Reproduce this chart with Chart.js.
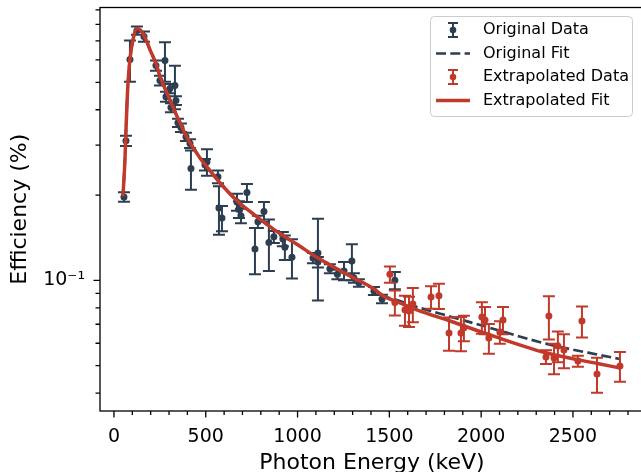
<!DOCTYPE html>
<html lang="en">
<head>
<meta charset="utf-8">
<title>Efficiency vs Photon Energy</title>
<script src="https://cdn.jsdelivr.net/npm/chart.js@4.4.1/dist/chart.umd.min.js"></script>
<style>
  html, body { margin: 0; padding: 0; background: #fff; }
  /* canvas is a bit larger than the window: the right spine and the
     bottom of the x title are cropped like in the original figure */
  #wrap { width: 641px; height: 472px; overflow: hidden; }
  #chart { display: block; }
</style>
</head>
<body>
<div id="wrap"><canvas id="chart" width="650" height="480"></canvas></div>
<script>
// --- data ---
const origX = [54.5, 65.4, 87.1, 125.3, 163.4, 228.8, 250.5, 277.8, 283.2, 305, 310.5, 332.2, 337.7, 348.6, 364.9, 392.2, 414, 419.4, 495.6, 506.5, 566.4, 571.9, 588.2, 670, 680.8, 691.7, 724.4, 768, 784, 817, 844, 871, 920, 931, 969.5, 1084, 1111, 1111, 1176, 1217, 1253, 1296, 1307, 1334, 1416, 1460, 1530];
const origY = [0.197, 0.311, 0.602, 0.761, 0.725, 0.573, 0.507, 0.597, 0.445, 0.475, 0.407, 0.487, 0.431, 0.360, 0.346, 0.321, 0.304, 0.248, 0.256, 0.262, 0.232, 0.180, 0.166, 0.189, 0.178, 0.169, 0.204, 0.129, 0.161, 0.175, 0.136, 0.1425, 0.140, 0.131, 0.1206, 0.120, 0.125, 0.116, 0.110, 0.105, 0.108, 0.117, 0.102, 0.098, 0.0918, 0.086, 0.100];
const origErr = [0.0075, 0.013, 0.10, 0.025, 0.03, 0.024, 0.02, 0.095, 0.018, 0.018, 0.015, 0.085, 0.015, 0.012, 0.012, 0.011, 0.011, 0.039, 0.012, 0.028, 0.012, 0.035, 0.017, 0.013, 0.012, 0.010, 0.015, 0.024, 0.008, 0.014, 0.028, 0.007, 0.008, 0.013, 0.019, 0.005, 0.04, 0.005, 0.004, 0.004, 0.008, 0.017, 0.004, 0.003, 0.003, 0.003, 0.007];

const extX = [1503, 1530, 1585, 1607, 1628, 1727, 1770, 1825, 1890, 1906, 2004, 2021, 2042, 2102, 2119, 2353, 2369, 2397, 2418, 2451, 2527, 2549, 2631, 2756];
const extY = [0.105, 0.0836, 0.0787, 0.078, 0.0826, 0.0874, 0.0882, 0.0652, 0.0652, 0.068, 0.0743, 0.0725, 0.0626, 0.0658, 0.0725, 0.0537, 0.0749, 0.0532, 0.0587, 0.0568, 0.0519, 0.0719, 0.0467, 0.0499];
const extErr = [0.007, 0.0085, 0.0095, 0.0095, 0.0114, 0.008, 0.009, 0.0087, 0.009, 0.007, 0.0095, 0.008, 0.0075, 0.006, 0.008, 0.003, 0.013, 0.0066, 0.0073, 0.0078, 0.0023, 0.009, 0.0066, 0.006];

// fitted curves, sampled along the drawn lines
const fitX = [49, 60, 65, 76, 87, 104, 125, 147, 174, 196, 229, 251, 278, 305, 332, 360, 387, 414, 468, 523, 577, 670, 741, 872, 1013, 1084, 1177, 1285, 1416, 1465, 1558, 1650, 1830, 2048, 2358, 2647, 2756];
const origFitY = [0.198, 0.267, 0.332, 0.491, 0.602, 0.708, 0.774, 0.761, 0.708, 0.652, 0.582, 0.524, 0.475, 0.434, 0.394, 0.360, 0.329, 0.306, 0.271, 0.244, 0.221, 0.191, 0.175, 0.151, 0.132, 0.123, 0.1134, 0.1037, 0.0933, 0.0885, 0.0846, 0.0806, 0.0746, 0.068, 0.0597, 0.0545, 0.0528];
const extFitY = [0.198, 0.267, 0.332, 0.491, 0.602, 0.708, 0.774, 0.761, 0.708, 0.652, 0.582, 0.524, 0.475, 0.434, 0.394, 0.360, 0.329, 0.306, 0.271, 0.244, 0.221, 0.191, 0.175, 0.151, 0.132, 0.123, 0.1134, 0.1037, 0.0933, 0.0882, 0.0833, 0.0787, 0.0719, 0.0642, 0.0554, 0.0507, 0.0491];

// axis ticks
const xTicks = [0, 500, 1000, 1500, 2000, 2500];
const xMinorTicks = [100, 200, 300, 400, 600, 700, 800, 900, 1100, 1200, 1300, 1400, 1600, 1700, 1800, 1900, 2100, 2200, 2300, 2400, 2600, 2700, 2800];
const yTicks = [0.1];
const yTickLabels = ['10\u207B\u00B9'];
const yMinorTicks = [0.04, 0.05, 0.06, 0.07, 0.08, 0.09, 0.2, 0.3, 0.4, 0.5, 0.6, 0.7, 0.8, 0.9];

const NAVY = '#2c3e50';
const RED = '#c0392b';
const FONT = '"DejaVu Sans", sans-serif';

const pts = (xs, ys) => xs.map((x, i) => ({x: x, y: ys[i]}));

// error bars drawn under each data set's markers
const errorBars = {
  id: 'errorBars',
  beforeDatasetDraw(chart, args) {
    const ds = chart.data.datasets[args.index];
    if (!ds.errors) return;
    const ys = chart.scales.y, ctx = chart.ctx;
    ctx.save();
    ctx.strokeStyle = ds.borderColor;
    ctx.lineWidth = 2;
    args.meta.data.forEach((p, i) => {
      const v = ds.data[i].y, e = ds.errors[i];
      const top = ys.getPixelForValue(v + e), bot = ys.getPixelForValue(v - e);
      ctx.beginPath();
      ctx.moveTo(p.x, top); ctx.lineTo(p.x, bot);
      ctx.moveTo(p.x - 6, top); ctx.lineTo(p.x + 6, top);
      ctx.moveTo(p.x - 6, bot); ctx.lineTo(p.x + 6, bot);
      ctx.stroke();
    });
    ctx.restore();
  }
};

// spines and major/minor tick marks
const axesFrame = {
  id: 'axesFrame',
  afterDraw(chart) {
    const {ctx, chartArea: a, scales: {x, y}} = chart;
    ctx.save();
    ctx.strokeStyle = '#000';
    ctx.lineWidth = 1.3;
    ctx.strokeRect(a.left, a.top, a.right - a.left, a.bottom - a.top);
    ctx.beginPath();
    xTicks.forEach(v => { const p = x.getPixelForValue(v); ctx.moveTo(p, a.bottom); ctx.lineTo(p, a.bottom + 6.5); });
    xMinorTicks.forEach(v => { const p = x.getPixelForValue(v); ctx.moveTo(p, a.bottom); ctx.lineTo(p, a.bottom + 4); });
    yTicks.forEach(v => { const p = y.getPixelForValue(v); ctx.moveTo(a.left, p); ctx.lineTo(a.left - 6.5, p); });
    yMinorTicks.forEach(v => { const p = y.getPixelForValue(v); ctx.moveTo(a.left, p); ctx.lineTo(a.left - 4.5, p); });
    ctx.stroke();
    ctx.restore();
  }
};

// matplotlib-like legend in the upper right corner
const legendBox = {
  id: 'legendBox',
  afterDraw(chart) {
    const ctx = chart.ctx;
    ctx.save();
    ctx.beginPath();
    ctx.roundRect(430.5, 16.5, 202, 100, 4);
    ctx.fillStyle = 'rgba(255,255,255,0.8)';
    ctx.fill();
    ctx.strokeStyle = '#cccccc';
    ctx.lineWidth = 1;
    ctx.stroke();

    ctx.font = '16px ' + FONT;
    ctx.textBaseline = 'middle';
    chart.data.datasets.forEach((ds, i) => {
      const yy = 30 + i * 23.5;
      ctx.strokeStyle = ds.borderColor;
      ctx.fillStyle = ds.borderColor;
      if (ds.errors) {
        ctx.lineWidth = 2;
        ctx.beginPath();
        ctx.moveTo(453, yy - 7); ctx.lineTo(453, yy + 7);
        ctx.moveTo(448, yy - 7); ctx.lineTo(458, yy - 7);
        ctx.moveTo(448, yy + 7); ctx.lineTo(458, yy + 7);
        ctx.stroke();
        ctx.beginPath();
        ctx.arc(453, yy, 3.3, 0, Math.PI * 2);
        ctx.fill();
      } else {
        ctx.lineWidth = ds.borderWidth;
        ctx.setLineDash(ds.borderDash || []);
        ctx.beginPath();
        ctx.moveTo(436, yy); ctx.lineTo(470, yy);
        ctx.stroke();
        ctx.setLineDash([]);
      }
      ctx.fillStyle = '#000';
      ctx.fillText(ds.label, 483, yy);
    });
    ctx.restore();
  }
};

const chart = new Chart(document.getElementById('chart'), {
  type: 'scatter',
  data: {
    datasets: [
      { label: 'Original Data', data: pts(origX, origY), errors: origErr,
        backgroundColor: NAVY, borderColor: NAVY, borderWidth: 0,
        pointRadius: 3.5, pointHoverRadius: 3.5, order: 4 },
      { label: 'Original Fit', data: pts(fitX, origFitY), showLine: true,
        borderColor: NAVY, borderWidth: 2.7, borderDash: [10, 4.3],
        pointRadius: 0, cubicInterpolationMode: 'monotone', order: 3 },
      { label: 'Extrapolated Data', data: pts(extX, extY), errors: extErr,
        backgroundColor: RED, borderColor: RED, borderWidth: 0,
        pointRadius: 3.5, pointHoverRadius: 3.5, order: 2 },
      { label: 'Extrapolated Fit', data: pts(fitX, extFitY), showLine: true,
        borderColor: RED, borderWidth: 3.5,
        pointRadius: 0, cubicInterpolationMode: 'monotone', order: 1 }
    ]
  },
  options: {
    responsive: false,
    devicePixelRatio: 1,
    animation: false,
    events: [],
    layout: { padding: { top: 7.5, right: 6, left: 0, bottom: 0 } },
    plugins: { legend: { display: false }, tooltip: { enabled: false } },
    scales: {
      x: {
        type: 'linear',
        min: -76,
        max: 2887,
        grid: { display: false, drawTicks: false },
        border: { display: false },
        afterBuildTicks: s => { s.ticks = xTicks.map(v => ({value: v})); },
        afterFit: s => { s.height = 69; s.paddingLeft = 0; s.paddingRight = 0; },
        ticks: {
          color: '#000', font: { family: FONT, size: 19 }, padding: 14.6,
          maxRotation: 0, autoSkip: false, callback: v => String(v)
        },
        title: {
          display: true, text: 'Photon Energy (keV)', color: '#000',
          font: { family: FONT, size: 22 }, padding: { top: 0, bottom: 3.8 }
        }
      },
      y: {
        type: 'logarithmic',
        min: 0.0346,
        max: 0.918,
        grid: { display: false, drawTicks: false },
        border: { display: false },
        afterBuildTicks: s => { s.ticks = yTicks.map(v => ({value: v})); },
        afterFit: s => { s.width = 100; s.paddingTop = 0; s.paddingBottom = 0; },
        ticks: {
          color: '#000', font: { family: FONT, size: 19 }, padding: 15,
          autoSkip: false,
          callback: v => { const i = yTicks.indexOf(v); return i >= 0 ? yTickLabels[i] : ''; }
        },
        title: {
          display: true, text: 'Efficiency (%)', color: '#000',
          font: { family: FONT, size: 22 }, padding: { top: 6.8, bottom: 0 }
        }
      }
    }
  },
  plugins: [errorBars, axesFrame, legendBox]
});
</script>
</body>
</html>
